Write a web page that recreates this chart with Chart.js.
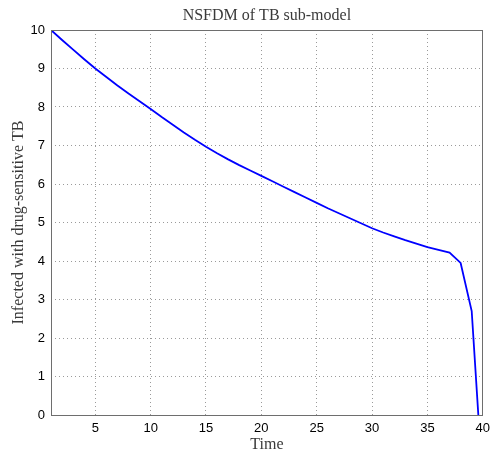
<!DOCTYPE html>
<html>
<head>
<meta charset="utf-8">
<script src="https://cdn.jsdelivr.net/npm/chart.js@4.4.1/dist/chart.umd.min.js"></script>
<style>
  html, body { margin: 0; padding: 0; background: #ffffff; }
  #wrap { width: 496px; height: 456px; position: relative; }
</style>
</head>
<body>
<div id="wrap"><canvas id="c" width="496" height="456"></canvas></div>
<script>
// Time steps of the NSFDM solution
const time = [1, 2, 3, 4, 5, 6, 7, 8, 9, 10,
              11, 12, 13, 14, 15, 16, 17, 18, 19, 20,
              21, 22, 23, 24, 25, 26, 27, 28, 29, 30,
              31, 32, 33, 34, 35, 36, 37, 38, 39, 40];
// Infected with drug-sensitive TB
const infected = [10.00, 9.74, 9.49, 9.24, 9.00, 8.78, 8.56, 8.35, 8.15, 7.95,
                  7.74, 7.54, 7.34, 7.15, 6.97, 6.80, 6.64, 6.49, 6.35, 6.21,
                  6.07, 5.93, 5.79, 5.65, 5.51, 5.37, 5.24, 5.11, 4.98, 4.85,
                  4.74, 4.64, 4.54, 4.45, 4.36, 4.29, 4.22, 3.95, 2.70, -1.80];
const xTicks = [5, 10, 15, 20, 25, 30, 35, 40];
const yTicks = [0, 1, 2, 3, 4, 5, 6, 7, 8, 9, 10];

const titleText = 'NSFDM of TB sub-model';
const xTitle = 'Time';
const yTitle = 'Infected with drug-sensitive TB';

const serif = '"Liberation Serif", "DejaVu Serif", serif';

// Frame, title and axis titles drawn around the plot box
const framePlugin = {
  id: 'frame',
  afterDraw(chart) {
    const { ctx, chartArea: a } = chart;
    ctx.save();
    ctx.strokeStyle = '#6e6e6e';
    ctx.lineWidth = 1;
    ctx.strokeRect(Math.round(a.left) + 0.5, Math.round(a.top) + 0.5,
                   Math.round(a.right - a.left) - 1, Math.round(a.bottom - a.top));
    const cx = (a.left + a.right) / 2;
    const cy = (a.top + a.bottom) / 2;
    ctx.fillStyle = '#3a3a3a';
    ctx.textAlign = 'center';
    ctx.textBaseline = 'middle';
    ctx.font = '16px ' + serif;
    ctx.fillText(titleText, cx, 16);
    ctx.fillText(xTitle, cx, 445);
    ctx.translate(19, cy);
    ctx.rotate(-Math.PI / 2);
    ctx.fillText(yTitle, 0, 0);
    ctx.restore();
  }
};

new Chart(document.getElementById('c'), {
  type: 'line',
  data: {
    datasets: [{
      data: time.map((t, i) => ({ x: t, y: infected[i] })),
      borderColor: '#0000ff',
      borderWidth: 1.8,
      pointRadius: 0,
      tension: 0,
      fill: false
    }]
  },
  options: {
    responsive: false,
    animation: false,
    layout: { padding: { top: 30, right: 13, left: 0, bottom: 0 } },
    plugins: { legend: { display: false }, title: { display: false }, tooltip: { enabled: false } },
    scales: {
      x: {
        type: 'linear',
        min: 1, max: 40,
        afterBuildTicks: s => { s.ticks = xTicks.map(v => ({ value: v })); },
        afterFit: s => { s.height = 41; },
        grid: { color: '#9a9a9a', lineWidth: 1, drawTicks: false },
        border: { display: false, dash: [1, 3] },
        ticks: { color: '#000', font: { family: '"Liberation Sans", Arial, sans-serif', size: 13 }, padding: 6, maxRotation: 0 }
      },
      y: {
        type: 'linear',
        min: 0, max: 10,
        afterBuildTicks: s => { s.ticks = yTicks.map(v => ({ value: v })); },
        afterFit: s => { s.width = 51; },
        grid: { color: '#9a9a9a', lineWidth: 1, drawTicks: false },
        border: { display: false, dash: [1, 3] },
        ticks: { color: '#000', font: { family: '"Liberation Sans", Arial, sans-serif', size: 13 }, padding: 6 }
      }
    }
  },
  plugins: [framePlugin]
});
</script>
</body>
</html>
